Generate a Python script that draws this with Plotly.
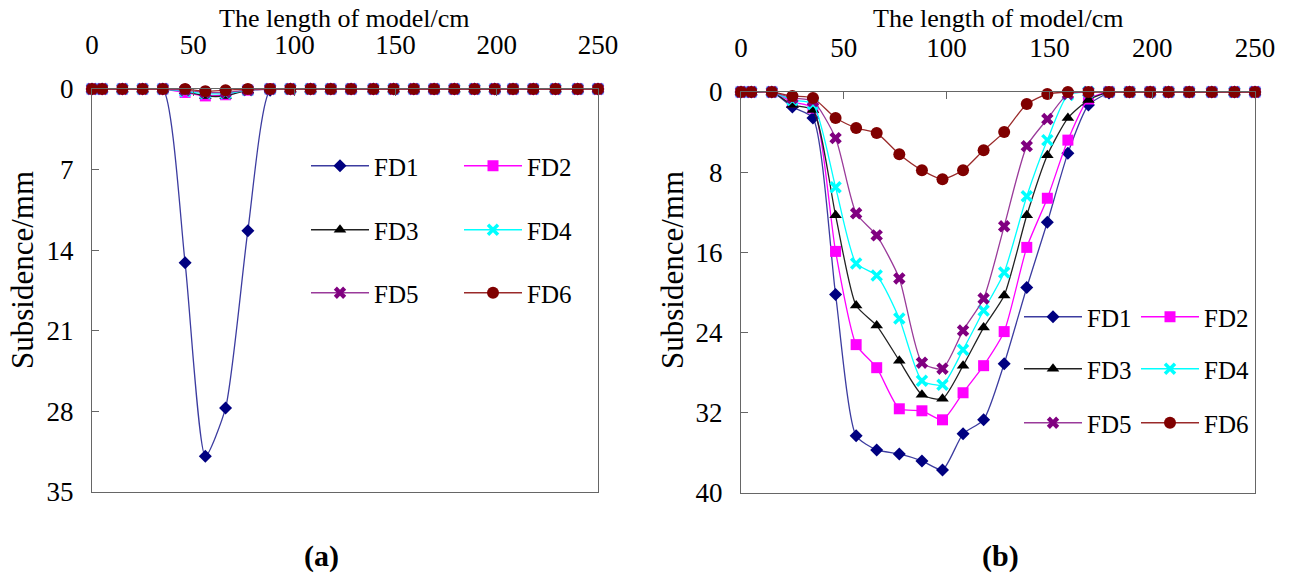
import plotly.graph_objects as go

W, H = 1292, 579

# model length positions (cm)
x_cm = [0, 5, 15, 25, 35, 46, 56, 66, 77, 88, 98, 108, 118, 128, 139, 149, 159, 169, 179, 189, 199, 208, 218, 229, 240, 250]

# subsidence (mm), panel (a)
fd1_a = [0, 0, 0, 0, 0, 15.1, 31.9, 27.7, 12.3, 0.1, 0, 0, 0, 0, 0, 0, 0, 0, 0, 0, 0, 0, 0, 0, 0, 0]
fd2_a = [0, 0, 0, 0, 0, 0.3, 0.6, 0.5, 0.1, 0, 0, 0, 0, 0, 0, 0, 0, 0, 0, 0, 0, 0, 0, 0, 0, 0]
fd3_a = [0, 0, 0, 0, 0, 0.2, 0.6, 0.6, 0.1, 0, 0, 0, 0, 0, 0, 0, 0, 0, 0, 0, 0, 0, 0, 0, 0, 0]
fd4_a = [0, 0, 0, 0, 0, 0.2, 0.4, 0.4, 0.1, 0, 0, 0, 0, 0, 0, 0, 0, 0, 0, 0, 0, 0, 0, 0, 0, 0]
fd5_a = [0, 0, 0, 0, 0, 0.1, 0.3, 0.3, 0.1, 0, 0, 0, 0, 0, 0, 0, 0, 0, 0, 0, 0, 0, 0, 0, 0, 0]
fd6_a = [0, 0, 0, 0, 0, 0.0, 0.2, 0.1, 0, 0, 0, 0, 0, 0, 0, 0, 0, 0, 0, 0, 0, 0, 0, 0, 0, 0]

# subsidence (mm), panel (b)
fd1_b = [0, 0, 0, 1.5, 2.6, 20.2, 34.3, 35.7, 36.1, 36.8, 37.7, 34.1, 32.7, 27.1, 19.5, 13.0, 6.1, 1.3, 0.1, 0, 0, 0, 0, 0, 0, 0]
fd2_b = [0, 0, 0, 1.0, 1.6, 15.9, 25.2, 27.5, 31.6, 31.8, 32.7, 30.0, 27.3, 23.9, 15.5, 10.6, 4.8, 0.7, 0, 0, 0, 0, 0, 0, 0, 0]
fd3_b = [0, 0, 0, 1.3, 1.8, 12.3, 21.3, 23.3, 26.8, 30.2, 30.6, 27.3, 23.5, 20.3, 12.3, 6.3, 2.6, 0.8, 0, 0, 0, 0, 0, 0, 0, 0]
fd4_b = [0, 0, 0, 0.8, 1.2, 9.5, 17.1, 18.3, 22.6, 28.8, 29.2, 25.7, 21.8, 18.0, 10.4, 4.8, 0.3, 0, 0, 0, 0, 0, 0, 0, 0, 0]
fd5_b = [0, 0, 0, 0.6, 0.9, 4.6, 12.1, 14.3, 18.6, 27.0, 27.6, 23.8, 20.6, 13.4, 5.4, 2.7, 0.2, 0, 0, 0, 0, 0, 0, 0, 0, 0]
fd6_b = [0, 0, 0, 0.4, 0.6, 2.6, 3.6, 4.1, 6.2, 7.8, 8.7, 7.8, 5.8, 4.0, 1.2, 0.2, 0, 0, 0, 0, 0, 0, 0, 0, 0, 0]

names = ["FD1", "FD2", "FD3", "FD4", "FD5", "FD6"]
x_ticks = [0, 50, 100, 150, 200, 250]
y_ticks_a = [0, 7, 14, 21, 28, 35]
y_ticks_b = [0, 8, 16, 24, 32, 40]

FONT = "Liberation Serif"

styles = [
    dict(symbol="diamond", size=10, color="#000080", line="#3c3ca0", lw=0),
    dict(symbol="square", size=11, color="#ff00ff", line="#ff00ff", lw=0),
    dict(symbol="triangle-up", size=11, color="#000000", line="#222222", lw=0),
    dict(symbol="x-thin", size=10, color="#00ffff", line="#00ffff", lw=3.5),
    dict(symbol="x", size=11, color="#800080", line="#9a3a9a", lw=0),
    dict(symbol="circle", size=12, color="#800000", line="#9a2a2a", lw=0),
]

series_a = [fd1_a, fd2_a, fd3_a, fd4_a, fd5_a, fd6_a]
series_b = [fd1_b, fd2_b, fd3_b, fd4_b, fd5_b, fd6_b]

fig = go.Figure()


def add_panel(series, xa, ya, legend_offset):
    for i, (nm, vals, st) in enumerate(zip(names, series, styles)):
        marker = dict(symbol=st["symbol"], size=st["size"], color=st["color"])
        if st["lw"]:
            marker["line"] = dict(color=st["color"], width=st["lw"])
        else:
            marker["line"] = dict(width=0)
        leg = "legend" if legend_offset + i == 0 else f"legend{legend_offset + i + 1}"
        fig.add_trace(go.Scatter(
            x=x_cm, y=vals, name=nm, mode="lines+markers",
            xaxis=xa, yaxis=ya, legend=leg,
            line=dict(color=st["line"], width=1.3, shape="spline", smoothing=0.6),
            marker=marker, cliponaxis=False,
        ))


add_panel(series_a, "x", "y", 0)
add_panel(series_b, "x2", "y2", 6)

axis_common = dict(
    showline=True, linecolor="#666666", linewidth=1.3, mirror=True,
    ticks="inside", tickcolor="#666666", ticklen=7, tickwidth=1.3,
    showgrid=False, zeroline=False,
    tickfont=dict(family=FONT, size=27, color="#000000"),
)

xa_dom = [92 / W, 598 / W]
xb_dom = [741 / W, 1255 / W]
ya_dom = [1 - 492 / H, 1 - 89 / H]
yb_dom = [1 - 493 / H, 1 - 92 / H]

layout = dict(
    width=W, height=H,
    margin=dict(l=0, r=0, t=0, b=0, autoexpand=False),
    paper_bgcolor="white", plot_bgcolor="white",
    showlegend=True,
    xaxis=dict(domain=xa_dom, range=[0, 250], tickvals=x_ticks, side="top",
               anchor="y", ticklabelstandoff=23, **axis_common),
    yaxis=dict(domain=ya_dom, range=[35, 0], tickvals=y_ticks_a, anchor="x",
               ticklabelstandoff=12, **axis_common),
    xaxis2=dict(domain=xb_dom, range=[0, 250], tickvals=x_ticks, side="top",
                anchor="y2", ticklabelstandoff=23, **axis_common),
    yaxis2=dict(domain=yb_dom, range=[40, 0], tickvals=y_ticks_b, anchor="x2",
                ticklabelstandoff=12, **axis_common),
)

# legend entries: two columns, three rows in each panel
legend_pos_a = [(306, 166), (459, 166), (306, 230), (459, 230), (306, 293), (459, 293)]
legend_pos_b = [(1019, 317), (1136, 317), (1019, 369), (1136, 369), (1019, 423), (1136, 423)]
for k, (px, py) in enumerate(legend_pos_a + legend_pos_b):
    key = "legend" if k == 0 else f"legend{k + 1}"
    layout[key] = dict(
        x=px / W, y=1 - py / H, xanchor="left", yanchor="middle",
        xref="paper", yref="paper",
        itemwidth=58, bgcolor="rgba(0,0,0,0)", borderwidth=0,
        font=dict(family=FONT, size=25, color="#000000"),
    )

fig.update_layout(**layout)

ann = [
    dict(text="The length of model/cm", x=345 / W, y=1 - 19 / H, size=26),
    dict(text="The length of model/cm", x=998 / W, y=1 - 19 / H, size=26),
    dict(text="Subsidence/mm", x=22 / W, y=1 - 270 / H, textangle=-90, size=31),
    dict(text="Subsidence/mm", x=672 / W, y=1 - 270 / H, textangle=-90, size=31),
]
for a in ann:
    size = a.pop("size")
    fig.add_annotation(xref="paper", yref="paper", xanchor="center", yanchor="middle",
                       showarrow=False, font=dict(family=FONT, size=size, color="#000000"), **a)

for lbl, cx in [("(a)", 321), ("(b)", 1000)]:
    fig.add_annotation(text=f"<b>{lbl}</b>", xref="paper", yref="paper",
                       x=cx / W, y=1 - 556 / H, xanchor="center", yanchor="middle",
                       showarrow=False, font=dict(family=FONT, size=30, color="#000000"))

fig.write_html("out.html")
